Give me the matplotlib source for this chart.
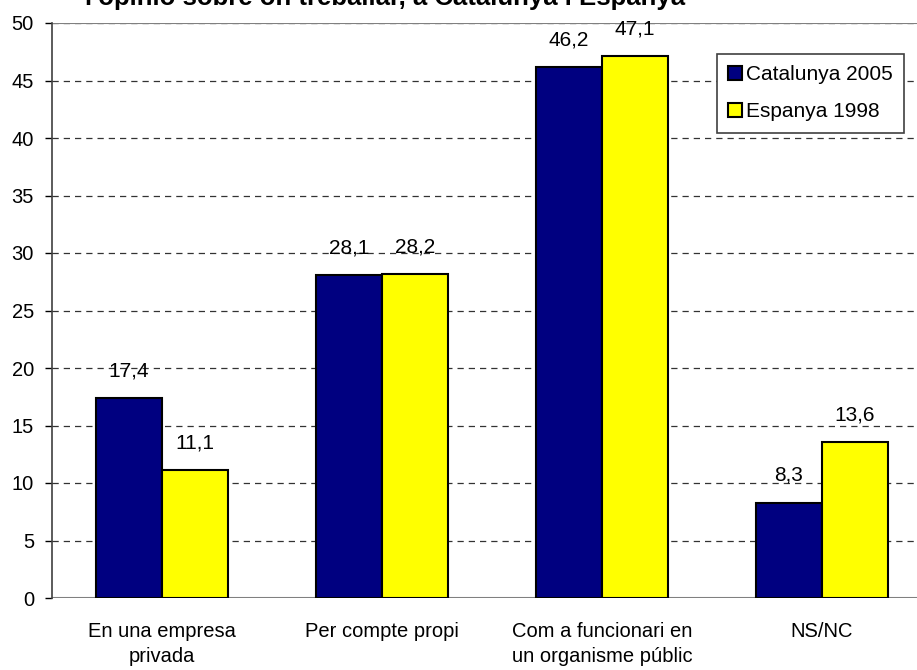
import matplotlib.pyplot as plt
import numpy as np

plt.rcParams['font.family'] = ['Liberation Sans', 'DejaVu Sans']

categories = ["En una empresa\nprivada", "Per compte propi",
              "Com a funcionari en\nun organisme públic", "NS/NC"]
catalunya_2005 = [17.4, 28.1, 46.2, 8.3]
espanya_1998 = [11.1, 28.2, 47.1, 13.6]
series_names = ["Catalunya 2005", "Espanya 1998"]
title = "l'opinió sobre on treballar, a Catalunya i Espanya"

fig = plt.figure(figsize=(9.17, 6.70), dpi=100)
# the plot area runs a little past the right edge of the figure
ax = fig.add_axes([52 / 917, 72 / 670, 880 / 917, 575 / 670])

x = np.arange(len(categories))
w = 0.3
b1 = ax.bar(x - w / 2, catalunya_2005, w, color='#000080', edgecolor='black',
            linewidth=1.5, label=series_names[0], zorder=3)
b2 = ax.bar(x + w / 2, espanya_1998, w, color='#FFFF00', edgecolor='black',
            linewidth=1.5, label=series_names[1], zorder=3)

for bars, vals in ((b1, catalunya_2005), (b2, espanya_1998)):
    for bar, v in zip(bars, vals):
        ax.annotate(f"{v:.1f}".replace('.', ','),
                    (bar.get_x() + bar.get_width() / 2, v),
                    xytext=(0, 19.5), textcoords='offset points',
                    ha='center', va='center', fontsize=15, zorder=4)

ax.set_xlim(-0.5, 3.5)
ax.set_ylim(0, 50)
ax.set_yticks(range(0, 51, 5))
ax.set_xticks(x)
ax.set_xticklabels(categories, fontsize=14.5, linespacing=1.45)
ax.tick_params(axis='x', length=0, pad=17)
ax.tick_params(axis='y', labelsize=14.5, length=5, width=1, pad=8)

ax.yaxis.grid(True, color='#333333', linestyle=(0, (5, 4)), linewidth=0.9, zorder=0)
for y in (0, 50):
    ax.axhline(y, color='#808080', linewidth=1.5, zorder=2)
ax.spines['top'].set_visible(False)
ax.spines['right'].set_visible(False)
ax.spines['bottom'].set_visible(False)
ax.spines['left'].set_color('#404040')
ax.spines['left'].set_linewidth(1.2)
ax.spines['left'].set_zorder(5)

leg = ax.legend(loc='upper left', bbox_to_anchor=(717 / 917, 1 - 54 / 670),
                bbox_transform=fig.transFigure, fontsize=15, fancybox=False,
                edgecolor='#404040', framealpha=1, handlelength=0.65, handleheight=0.65,
                handletextpad=0.2, labelspacing=0.85, borderpad=0.55, borderaxespad=0)
leg.get_frame().set_linewidth(1.2)

fig.text(385 / 917, 1 - 5 / 670, title, ha='center', va='baseline',
         fontsize=18.5, fontweight='bold')

fig.savefig('out.png', dpi=100)
